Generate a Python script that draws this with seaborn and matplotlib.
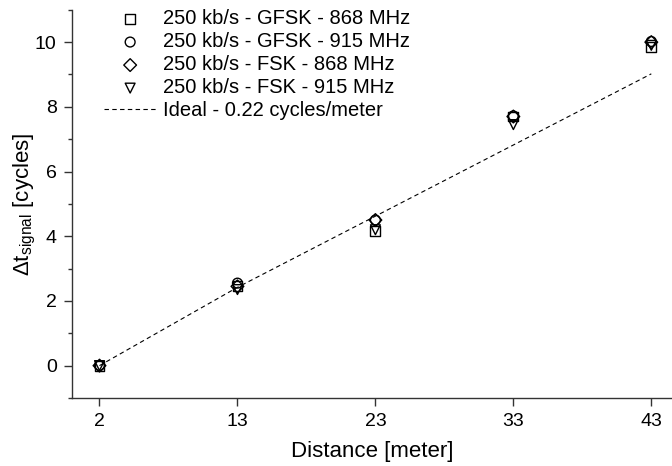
import numpy as np
import pandas as pd
import seaborn as sns
import matplotlib.pyplot as plt
from matplotlib.ticker import MultipleLocator

# data
distances = ["2", "13", "23", "33", "43"]
gfsk_868 = [0.0, 2.45, 4.15, 7.70, 9.85]
gfsk_915 = [0.0, 2.55, 4.50, 7.72, 10.02]
fsk_868 = [0.0, 2.45, 4.50, 7.70, 10.00]
fsk_915 = [0.0, 2.35, 4.20, 7.45, 9.90]
ideal = [0.0, 2.42, 4.62, 6.82, 9.02]

series = [
    ("250 kb/s - GFSK - 868 MHz", gfsk_868, "s"),
    ("250 kb/s - GFSK - 915 MHz", gfsk_915, "o"),
    ("250 kb/s - FSK - 868 MHz", fsk_868, "D"),
    ("250 kb/s - FSK - 915 MHz", fsk_915, "v"),
]

sns.set_theme(style="ticks", rc={"text.color": "black", "axes.labelcolor": "black",
                                 "xtick.color": "black", "ytick.color": "black"})
plt.rcParams["font.family"] = ["Liberation Sans", "DejaVu Sans"]
plt.rcParams["mathtext.fontset"] = "custom"
plt.rcParams["mathtext.rm"] = "Liberation Sans"
plt.rcParams["mathtext.it"] = "Liberation Sans:italic"

fig = plt.figure(figsize=(6.72, 4.66), dpi=100)
ax = fig.add_axes([0.107, 0.146, 0.893, 0.833])

pos = np.arange(len(distances))
for label, vals, m in series:
    size = 50 if m != "D" else 42
    sns.scatterplot(x=pos, y=vals, marker=m, s=size, facecolors="none",
                    edgecolors="black", linewidths=1.0, label=label, ax=ax)

sns.lineplot(x=pos, y=ideal, color="black", linestyle=(0, (4, 3)), linewidth=0.8,
             label="Ideal - 0.22 cycles/meter", ax=ax)

ax.set_xlim(-0.2, 4.15)
ax.set_ylim(-1, 11)
ax.set_xticks(pos)
ax.set_xticklabels(distances)
ax.yaxis.set_minor_locator(MultipleLocator(1))
ax.set_yticks([0, 2, 4, 6, 8, 10])
ax.tick_params(axis="both", which="major", labelsize=14, length=6, width=1,
               color="#333333", labelcolor="black", direction="out", pad=5)
ax.tick_params(axis="y", which="minor", length=3, width=1, color="#333333")
for s in ["top", "right"]:
    ax.spines[s].set_visible(False)
for s in ["left", "bottom"]:
    ax.spines[s].set_color("#333333")
    ax.spines[s].set_linewidth(1.0)

ax.set_xlabel("Distance [meter]", fontsize=16, labelpad=8)
ax.set_ylabel(r"$\Delta$t$_{\mathrm{signal}}$ [cycles]", fontsize=16, labelpad=-2)

ax.legend(loc="upper left", bbox_to_anchor=(0.04, 1.022), frameon=False,
          fontsize=14.5, handlelength=2.6, handletextpad=0.35, labelspacing=0.2,
          borderaxespad=0)

plt.savefig("out.png", dpi=100)
